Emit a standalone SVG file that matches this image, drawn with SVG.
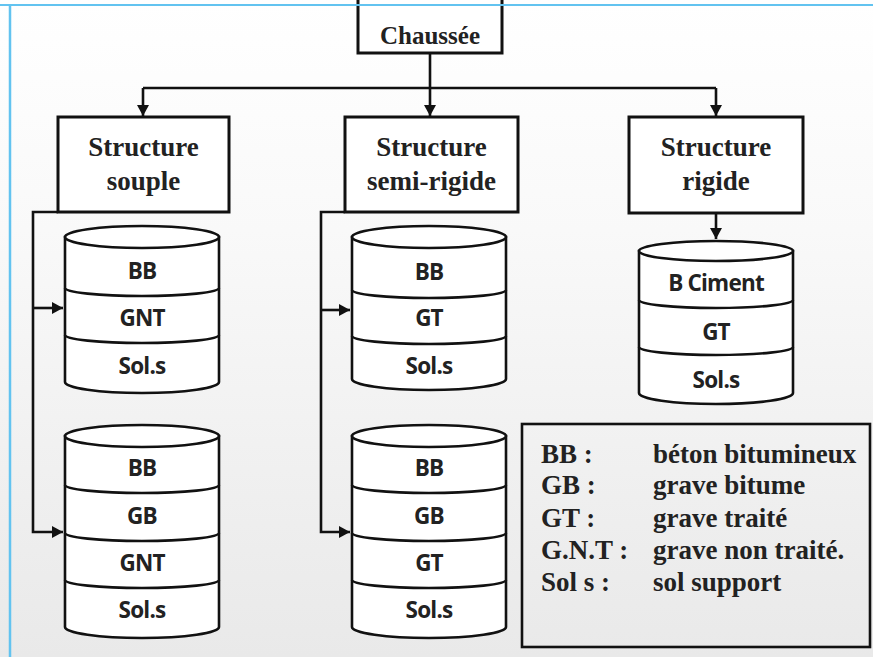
<svg xmlns="http://www.w3.org/2000/svg" width="873" height="657" viewBox="0 0 873 657">
<defs>
<linearGradient id="bg" x1="0" y1="0" x2="0" y2="1">
<stop offset="0" stop-color="#ffffff"/>
<stop offset="0.35" stop-color="#f9f9f9"/>
<stop offset="1" stop-color="#e9e9e9"/>
</linearGradient>
<marker id="arr" markerUnits="userSpaceOnUse" markerWidth="12" markerHeight="12" refX="11" refY="6" orient="auto">
<path d="M0,0 L11,6 L0,12 z" fill="#111"/>
</marker>
<style>
.box{fill:#fff;stroke:#111;stroke-width:3}
.cyl{fill:#fff;stroke:#111;stroke-width:2.6}
.div{fill:none;stroke:#111;stroke-width:2.6}
.con{fill:none;stroke:#111;stroke-width:2.6}
.ser{font-family:"Liberation Serif","Times New Roman",serif;font-weight:bold;fill:#222;text-anchor:middle}
.lay{font-family:"Open Sans","Noto Sans",sans-serif;font-weight:bold;font-size:22.5px;fill:#222;text-anchor:middle;letter-spacing:-0.8px}
.leg{font-family:"Liberation Serif","Times New Roman",serif;font-weight:bold;font-size:27px;fill:#222}
</style>
</defs>
<rect x="0" y="0" width="873" height="657" fill="url(#bg)"/>

<g id="connectors">
<path class="con" d="M430,53 V116" marker-end="url(#arr)"/>
<path class="con" d="M143,88 H716"/>
<path class="con" d="M143,88 V116" marker-end="url(#arr)"/>
<path class="con" d="M716,88 V116" marker-end="url(#arr)"/>
<path class="con" d="M716,213 V239" marker-end="url(#arr)"/>
<path class="con" d="M58,212 H33 V532 H63" marker-end="url(#arr)"/>
<path class="con" d="M33,308 H63" marker-end="url(#arr)"/>
<path class="con" d="M345,212 H321 V532 H350" marker-end="url(#arr)"/>
<path class="con" d="M321,310 H350" marker-end="url(#arr)"/>
</g>

<g id="chaussee">
<rect class="box" x="358" y="-10" width="144" height="63"/>
<text class="ser" x="430" y="44" font-size="25">Chaussée</text>
</g>

<g id="structure-souple">
<rect class="box" x="58" y="117" width="171" height="95"/>
<text class="ser" x="143.5" y="156" font-size="27">Structure</text>
<text class="ser" x="143.5" y="190" font-size="27">souple</text>
</g>

<g id="structure-semi-rigide">
<rect class="box" x="345" y="117" width="173" height="95"/>
<text class="ser" x="431.5" y="156" font-size="27">Structure</text>
<text class="ser" x="431.5" y="190" font-size="27">semi-rigide</text>
</g>

<g id="structure-rigide">
<rect class="box" x="629" y="117" width="174" height="96"/>
<text class="ser" x="716" y="156" font-size="27">Structure</text>
<text class="ser" x="716" y="190" font-size="27">rigide</text>
</g>

<g id="souple-cyl-1">
<path class="cyl" d="M65,237 V382 A77,11 0 0 0 219,382 V237 z"/>
<ellipse class="cyl" cx="142" cy="237" rx="77" ry="11"/>
<path class="div" d="M65,288 A77,8 0 0 0 219,288"/>
<path class="div" d="M65,335 A77,8 0 0 0 219,335"/>
<text class="lay" x="142" y="279">BB</text>
<text class="lay" x="142" y="326">GNT</text>
<text class="lay" x="142" y="374">Sol.s</text>
</g>

<g id="souple-cyl-2">
<path class="cyl" d="M65,436 V627 A77,11 0 0 0 219,627 V436 z"/>
<ellipse class="cyl" cx="142" cy="436" rx="77" ry="11"/>
<path class="div" d="M65,485 A77,8 0 0 0 219,485"/>
<path class="div" d="M65,533 A77,8 0 0 0 219,533"/>
<path class="div" d="M65,580 A77,8 0 0 0 219,580"/>
<text class="lay" x="142" y="476">BB</text>
<text class="lay" x="142" y="524">GB</text>
<text class="lay" x="142" y="571">GNT</text>
<text class="lay" x="142" y="618">Sol.s</text>
</g>

<g id="semi-cyl-1">
<path class="cyl" d="M352,237 V379 A77,11 0 0 0 506,379 V237 z"/>
<ellipse class="cyl" cx="429" cy="237" rx="77" ry="11"/>
<path class="div" d="M352,290 A77,8 0 0 0 506,290"/>
<path class="div" d="M352,336 A77,8 0 0 0 506,336"/>
<text class="lay" x="429" y="280">BB</text>
<text class="lay" x="429" y="326">GT</text>
<text class="lay" x="429" y="374">Sol.s</text>
</g>

<g id="semi-cyl-2">
<path class="cyl" d="M352,436 V627 A77,11 0 0 0 506,627 V436 z"/>
<ellipse class="cyl" cx="429" cy="436" rx="77" ry="11"/>
<path class="div" d="M352,485 A77,8 0 0 0 506,485"/>
<path class="div" d="M352,533 A77,8 0 0 0 506,533"/>
<path class="div" d="M352,580 A77,8 0 0 0 506,580"/>
<text class="lay" x="429" y="476">BB</text>
<text class="lay" x="429" y="524">GB</text>
<text class="lay" x="429" y="571">GT</text>
<text class="lay" x="429" y="618">Sol.s</text>
</g>

<g id="rigide-cyl">
<path class="cyl" d="M639,251 V393 A77,11 0 0 0 793,393 V251 z"/>
<ellipse class="cyl" cx="716" cy="251" rx="77" ry="10"/>
<path class="div" d="M639,300 A77,8 0 0 0 793,300"/>
<path class="div" d="M639,347 A77,8 0 0 0 793,347"/>
<text class="lay" x="716" y="291">B Ciment</text>
<text class="lay" x="716" y="340">GT</text>
<text class="lay" x="716" y="388">Sol.s</text>
</g>

<g id="legend">
<rect x="522" y="424" width="348" height="223" fill="none" stroke="#111" stroke-width="2.6"/>
<text class="leg" x="541" y="463">BB :</text>
<text class="leg" x="653" y="463">béton bitumineux</text>
<text class="leg" x="541" y="494">GB :</text>
<text class="leg" x="653" y="494">grave bitume</text>
<text class="leg" x="541" y="527">GT :</text>
<text class="leg" x="653" y="527">grave traité</text>
<text class="leg" x="541" y="559">G.N.T :</text>
<text class="leg" x="653" y="559">grave non traité.</text>
<text class="leg" x="541" y="591">Sol s :</text>
<text class="leg" x="653" y="591">sol support</text>
</g>

<line x1="0" y1="5" x2="873" y2="5" stroke="#62c3f0" stroke-width="2"/>
<line x1="10" y1="5" x2="10" y2="657" stroke="#62c3f0" stroke-width="2.5"/>
</svg>
